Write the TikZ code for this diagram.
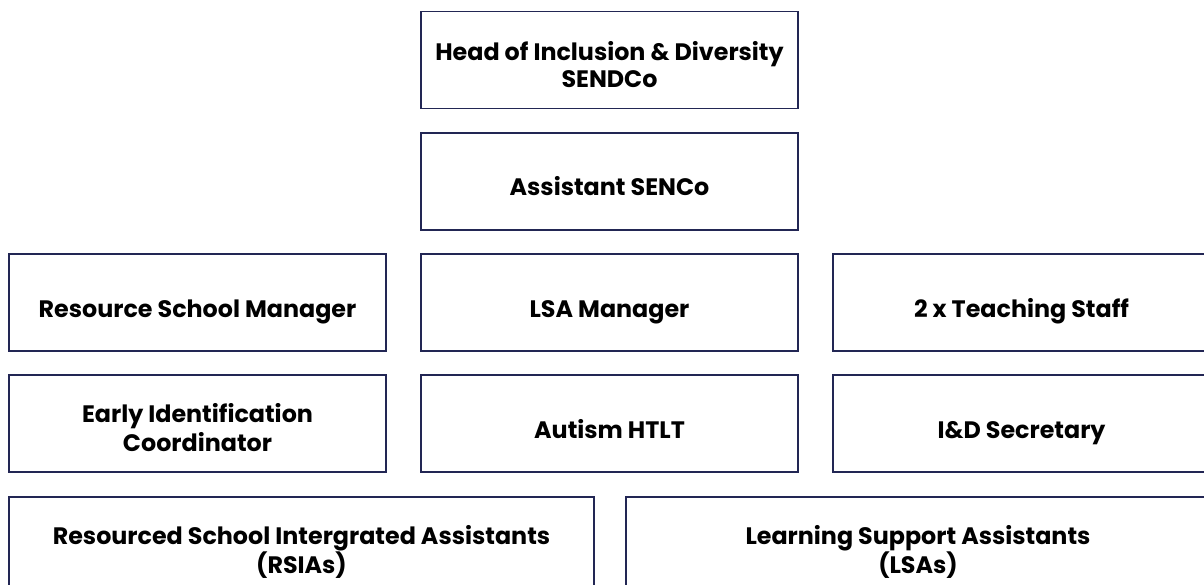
\documentclass[tikz,border=0pt]{standalone}
\usepackage{fontspec}
\setmainfont{Poppins}
\definecolor{navy}{RGB}{34,38,84}
\begin{document}
\begin{tikzpicture}[x=1pt,y=-1pt]

        \clip (0,0) rectangle (1204,585);
        \useasboundingbox (0,0) rectangle (1204,585);

        \begin{scope}[every node/.style={draw=navy, line width=1.3pt, minimum width=377pt, minimum height=97pt, align=center, font=\bfseries\fontsize{23.8}{29}\selectfont, inner sep=0pt, text height=29pt, text depth=0pt},
                      twoline/.style={text height=55pt}]
          \node (head)  at (609.5,60)   [twoline, text height=56pt, font=\bfseries\fontsize{23.8}{27}\selectfont] {Head of Inclusion \& Diversity\\SENDCo};
          \node (asst)  at (609.5,181.5) {Assistant SENCo};
          \node (rsm)   at (197.5,302.5) {Resource School Manager};
          \node (lsam)  at (609.5,302.5) {LSA Manager};
          \node (teach) at (1021.5,302.5) {2 x Teaching Staff};
          \node (eic)   at (197.5,423.5) [twoline] {Early Identification\\Coordinator};
          \node (htlt)  at (609.5,423.5) {Autism HTLT};
          \node (sec)   at (1021.5,423.5) {I\&D Secretary};
          \node[twoline, minimum width=585pt] (rsia) at (301.5,545.5) {Resourced School Intergrated Assistants\\(RSIAs)};
          \node[twoline, minimum width=584pt] (lsa)  at (918,545.5)   {Learning Support Assistants\\(LSAs)};
        \end{scope}

      \end{tikzpicture}
\end{document}
